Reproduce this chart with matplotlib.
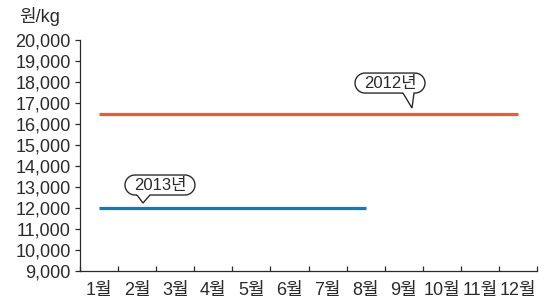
import numpy as np
import matplotlib
matplotlib.use('Agg')
import matplotlib.pyplot as plt
from matplotlib.path import Path
from matplotlib.patches import PathPatch
from matplotlib.transforms import Affine2D

plt.rcParams['font.family'] = ['Liberation Sans', 'Noto Sans CJK KR', 'DejaVu Sans']

# 데이터
months = ['1월', '2월', '3월', '4월', '5월', '6월', '7월', '8월', '9월', '10월', '11월', '12월']
price_2012 = [16500] * 12
price_2013 = [12000] * 8
yticks = list(range(9000, 20001, 1000))

c2012 = '#f15a29'
c2013 = '#0a7cc4'
ink = '#2b2b2b'

fig = plt.figure(figsize=(5.44, 3.06), dpi=100)
ax = fig.add_axes([80 / 544, 1 - 271 / 306, 457 / 544, 231 / 306])

x = np.arange(len(months))
ax.plot(x, price_2012, color=c2012, lw=2.3, solid_capstyle='butt', zorder=2)
ax.plot(x[:len(price_2013)], price_2013, color=c2013, lw=2.3, solid_capstyle='butt', zorder=2)

ax.set_xlim(-0.5, len(months) - 0.5)
ax.set_ylim(9000, 20000)
ax.set_yticks(yticks)
ax.set_yticklabels([f'{v:,}' for v in yticks])
ax.set_xticks(x)
ax.set_xticklabels(months)
ax.set_xticks(np.arange(-0.5, len(months), 1), minor=True)

for s in ['top', 'right']:
    ax.spines[s].set_visible(False)
for s in ['left', 'bottom']:
    ax.spines[s].set_color(ink)
    ax.spines[s].set_linewidth(0.9)

ax.tick_params(axis='y', direction='out', length=3.5, width=0.9, color=ink,
               labelsize=13, labelcolor=ink, pad=3)
ax.tick_params(axis='x', which='major', length=0, labelsize=13, labelcolor=ink, pad=8)
ax.tick_params(axis='x', which='minor', direction='in', length=3.5, width=0.9, color=ink)

fig.text(40 / 544, 1 - 16 / 306, '원/kg', ha='center', va='center', fontsize=13, color=ink)


# 말풍선
def callout(cx, cy, label, tail, w=70, h=20):
    ox, oy = ax.transData.transform((cx, cy))
    r = h / 2
    hw = w / 2 - r
    bl, tip_x, tip_y, br = tail
    verts = [(bl, -r), (tip_x, tip_y), (br, -r), (hw, -r)]
    for a in np.linspace(-np.pi / 2, np.pi / 2, 20)[1:]:
        verts.append((hw + r * np.cos(a), r * np.sin(a)))
    verts.append((-hw, r))
    for a in np.linspace(np.pi / 2, 3 * np.pi / 2, 20)[1:]:
        verts.append((-hw + r * np.cos(a), r * np.sin(a)))
    verts.append((bl, -r))
    path = Path(verts, closed=False)
    patch = PathPatch(path, facecolor='white', edgecolor=ink, lw=1.0,
                      transform=Affine2D().translate(ox, oy), zorder=4)
    fig.add_artist(patch)
    fig.text(ox / 544, oy / 306, label, ha='center', va='center', fontsize=12,
             color=ink, zorder=5)


callout(7.64, 17950, '2012년', (13, 22, -25, 24))
callout(1.60, 13095, '2013년', (-23, -17, -18, -10))

fig.savefig('out.png', dpi=100)
